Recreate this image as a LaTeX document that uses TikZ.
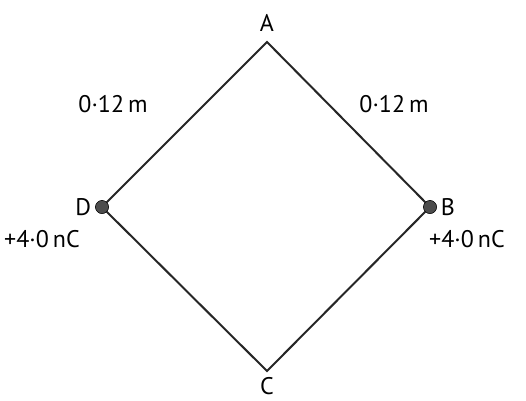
\documentclass[tikz,border=0pt]{standalone}
\usepackage{fontspec}
\setmainfont{PT Sans}
\usepackage{xcolor}
\usetikzlibrary{positioning}

\tikzset{
    charge/.style={circle, draw=black, fill=black!70, inner sep=0pt, minimum size=13pt},
    lbl/.style={font=\fontsize{24}{28}\selectfont, inner sep=1pt},
    side/.style={line width=2pt, black!85}
}

\begin{document}
\begin{tikzpicture}[x=1pt, y=-1pt]
    \useasboundingbox (0,0) rectangle (526,400);

    % Corners
    \coordinate (A) at (267,42);
    \node[charge] (B) at (430,207) {};
    \coordinate (C) at (267,371);
    \node[charge] (D) at (102,207) {};

    % Sides
    \draw[side] (A) -- (B.center) -- (C) -- (D.center) -- cycle;
    \node[charge] at (B) {};
    \node[charge] at (D) {};

    % Corner labels
    \node[lbl] (labA) at (267,23) {A};
    \node[lbl, right=3pt of B] (labB) {B};
    \node[lbl] (labC) at (267,386) {C};
    \node[lbl, left=3pt of D] (labD) {D};

    % Charges
    \node[lbl] (qB) at (467,239) {+4·0\,nC};
    \node[lbl] (qD) at (42,239) {+4·0\,nC};

    % Lengths
    \node[lbl] (lenAD) at (113,104) {0·12\,m};
    \node[lbl] (lenAB) at (394,104) {0·12\,m};
\end{tikzpicture}
\end{document}
